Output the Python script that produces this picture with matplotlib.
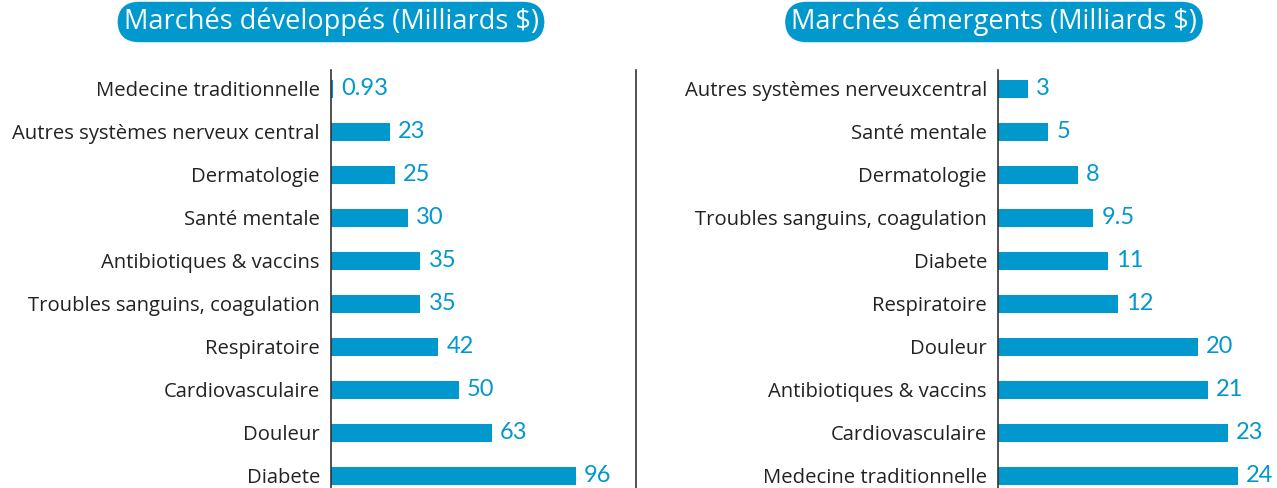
import matplotlib.pyplot as plt

# Developed markets (billions $), top to bottom
dev_labels = ["Medecine traditionnelle", "Autres systèmes nerveux central", "Dermatologie",
              "Santé mentale", "Antibiotiques & vaccins", "Troubles sanguins, coagulation",
              "Respiratoire", "Cardiovasculaire", "Douleur", "Diabete"]
dev_values = [0.93, 23, 25, 30, 35, 35, 42, 50, 63, 96]
dev_text = ["0.93", "23", "25", "30", "35", "35", "42", "50", "63", "96"]

# Emerging markets (billions $), top to bottom
emg_labels = ["Autres systèmes nerveuxcentral", "Santé mentale", "Dermatologie",
              "Troubles sanguins, coagulation", "Diabete", "Respiratoire", "Douleur",
              "Antibiotiques & vaccins", "Cardiovasculaire", "Medecine traditionnelle"]
emg_values = [3, 5, 8, 9.5, 11, 12, 20, 21, 23, 24]
emg_text = ["3", "5", "8", "9.5", "11", "12", "20", "21", "23", "24"]

BLUE = "#0098CD"
plt.rcParams['font.family'] = ['Open Sans', 'DejaVu Sans']

fig = plt.figure(figsize=(12.77, 4.88), dpi=100)
ax1 = fig.add_axes([331 / 1277, 0, 305 / 1277, 418 / 488])
ax2 = fig.add_axes([998 / 1277, 0, 279 / 1277, 418 / 488])


def draw(ax, labels, values, texts, xmax, right_spine):
    y = list(range(len(values)))
    ax.barh(y, values, height=0.42, color=BLUE)
    ax.set_ylim(9.28, -0.44)
    ax.set_xlim(0, xmax)
    ax.set_yticks(y)
    ax.set_yticklabels(labels, fontsize=14.6, color="#222222")
    ax.tick_params(axis='y', length=0, pad=8)
    ax.set_xticks([])
    for s in ["top", "bottom", "right"]:
        ax.spines[s].set_visible(False)
    ax.spines["left"].set_color("#333333")
    ax.spines["left"].set_linewidth(1.2)
    if right_spine:
        ax.spines["right"].set_visible(True)
        ax.spines["right"].set_color("#333333")
        ax.spines["right"].set_linewidth(1.2)
    for yi, v, t in zip(y, values, texts):
        ax.annotate(t, (v, yi), xytext=(6, 0), textcoords="offset points",
                    va="center", ha="left", fontsize=17, color=BLUE, family=["Lato", "DejaVu Sans"])


draw(ax1, dev_labels, dev_values, dev_text, 119.6, True)
draw(ax2, emg_labels, emg_values, emg_text, 27.9, False)

box = dict(boxstyle="round,pad=0.22,rounding_size=0.8", fc=BLUE, ec="none")
fig.text(331 / 1277, 1 - 22 / 488, "Marchés développés (Milliards $)", ha="center", va="center",
         fontsize=19.5, color="white", weight="medium", bbox=box)
fig.text(994 / 1277, 1 - 22 / 488, "Marchés émergents (Milliards $)", ha="center", va="center",
         fontsize=19.5, color="white", weight="medium", bbox=box)

fig.savefig("out.png", dpi=100)
